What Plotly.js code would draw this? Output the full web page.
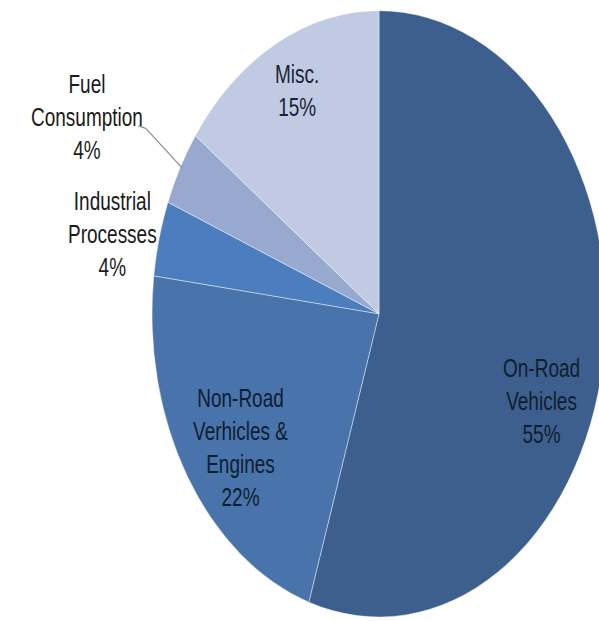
<!DOCTYPE html>
<html>
<head>
<meta charset="utf-8">
<script src="https://cdn.plot.ly/plotly-3.0.1.min.js"></script>
<style>
  html, body { margin: 0; padding: 0; width: 599px; height: 621px; overflow: hidden; background: #ffffff; }
  #chart { width: 620px; height: 465px; transform: scale(1, 1.3355); transform-origin: 0 0; }
</style>
</head>
<body>
<div id="chart"></div>
<script>
// Data
const categories = ["On-Road Vehicles", "Non-Road Verhicles & Engines", "Industrial Processes", "Fuel Consumption", "Misc."];
const displayLabels = ["On-Road<br>Vehicles", "Non-Road<br>Verhicles &<br>Engines", "Industrial<br>Processes", "Fuel<br>Consumption", "Misc."];
const shares = [55, 22, 4, 4, 15];
const sliceColors = ["#3d5f8e", "#4874ab", "#4b7dbf", "#98a9d0", "#c0cae2"];

const trace = {
  type: "pie",
  labels: categories,
  values: shares,
  sort: false,
  direction: "clockwise",
  rotation: 0,
  textinfo: "none",
  hoverinfo: "label+percent",
  marker: { colors: sliceColors, line: { color: "rgba(255,255,255,0.6)", width: 0.6 } },
  showlegend: false
};

// label placement (paper coordinates) for each slice, in category order
const labelPos = [
  { x: 0.859, y: 0.356, color: "#0f1d30" },
  { x: 0.194, y: 0.279, color: "#0f1d30" },
  { x: -0.088, y: 0.632, color: "#1a1a1a" },
  { x: -0.143, y: 0.823, color: "#1a1a1a" },
  { x: 0.319, y: 0.868, color: "#1a2235" }
];

const annotations = categories.map((c, i) => ({
  xref: "paper", yref: "paper",
  x: labelPos[i].x, y: labelPos[i].y,
  xanchor: "center", yanchor: "middle",
  showarrow: false,
  align: "center",
  text: displayLabels[i] + "<br>" + shares[i] + "%",
  font: { family: "Liberation Sans, Arial, sans-serif", size: 19, color: labelPos[i].color }
}));

const layout = {
  width: 620,
  height: 465,
  margin: { l: 152, r: 14, t: 8, b: 3, pad: 0 },
  paper_bgcolor: "#ffffff",
  annotations: annotations,
  shapes: [
    { type: "line", xref: "paper", yref: "paper", x0: -0.030, y0: 0.810, x1: -0.014, y1: 0.806, line: { color: "#8a8a8a", width: 1 } },
    { type: "line", xref: "paper", yref: "paper", x0: -0.014, y0: 0.806, x1: 0.066, y1: 0.741, line: { color: "#8a8a8a", width: 1 } }
  ]
};

Plotly.newPlot("chart", [trace], layout, { staticPlot: true, displayModeBar: false });
</script>
</body>
</html>
